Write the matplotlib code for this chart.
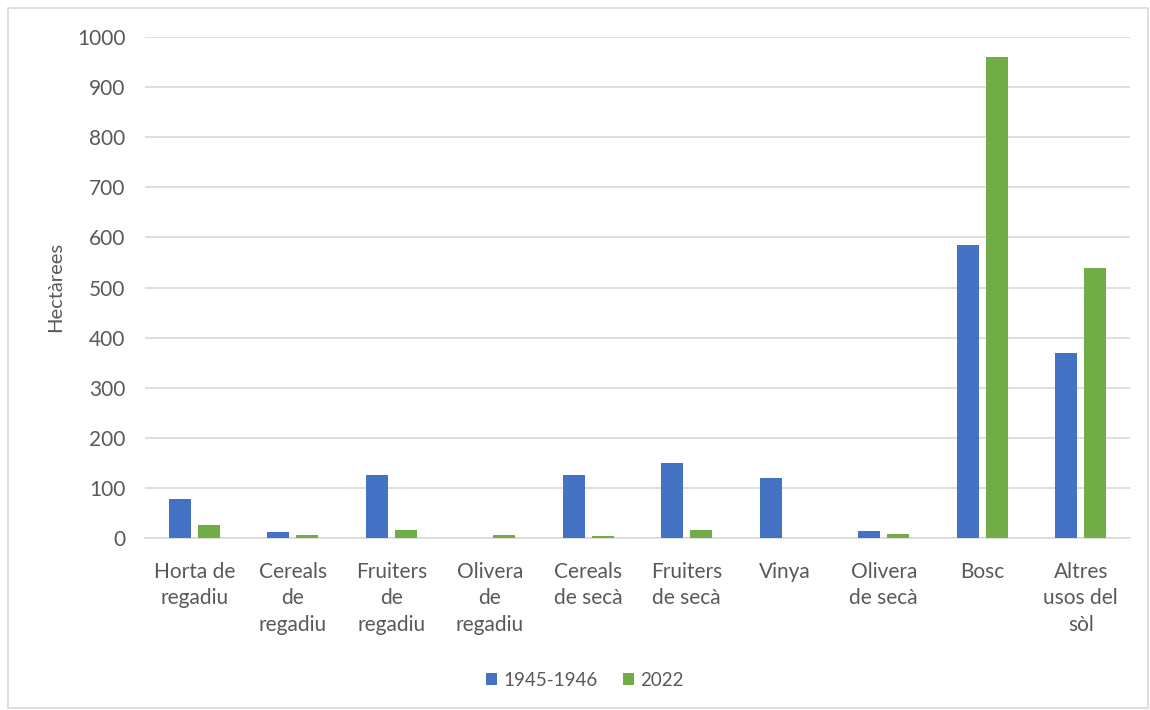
import matplotlib.pyplot as plt
import numpy as np
from matplotlib.patches import Rectangle

categories = [
    "Horta de\nregadiu",
    "Cereals\nde\nregadiu",
    "Fruiters\nde\nregadiu",
    "Olivera\nde\nregadiu",
    "Cereals\nde secà",
    "Fruiters\nde secà",
    "Vinya",
    "Olivera\nde secà",
    "Bosc",
    "Altres\nusos del\nsòl",
]
values_1945 = [77, 11, 126, 0, 126, 150, 120, 13, 585, 369]
values_2022 = [25, 5, 15, 5, 3, 15, 0.5, 7, 960, 539]
series_labels = ["1945-1946", "2022"]
yticks = [0, 100, 200, 300, 400, 500, 600, 700, 800, 900, 1000]

BLUE = "#4472C4"
GREEN = "#70AD47"
TEXT = "#595959"
GRID = "#D9D9D9"

plt.rcParams["font.family"] = ["Lato", "DejaVu Sans"]

fig = plt.figure(figsize=(11.5, 7.1), dpi=100)
ax = fig.add_axes([145 / 1150, 1 - 538 / 710, 985 / 1150, 501 / 710])

x = np.arange(len(categories))
width = 0.225
offset = 0.147
ax.bar(x - offset, values_1945, width, color=BLUE, label=series_labels[0], zorder=3)
ax.bar(x + offset, values_2022, width, color=GREEN, label=series_labels[1], zorder=3)

ax.set_xlim(-0.5, len(categories) - 0.5)
ax.set_ylim(0, 1000)
ax.set_yticks(yticks)
ax.set_xticks(x)
ax.set_xticklabels(categories, fontsize=15, color=TEXT, linespacing=1.42, va="top")
ax.tick_params(axis="y", labelsize=15, labelcolor=TEXT, length=0, pad=14)
ax.tick_params(axis="x", length=0, pad=17)
ax.yaxis.grid(True, color=GRID, linewidth=1.2, zorder=0)
for side in ("top", "right", "left"):
    ax.spines[side].set_visible(False)
ax.spines["bottom"].set_color(GRID)
ax.spines["bottom"].set_linewidth(1.2)

fig.text(56 / 1150, 1 - 287 / 710, "Hectàrees", rotation=90, fontsize=14.5,
         color=TEXT, ha="center", va="center")

fig.legend(
    loc="center",
    bbox_to_anchor=(585 / 1150, 1 - 680 / 710),
    ncol=2,
    frameon=False,
    fontsize=13.5,
    labelcolor=TEXT,
    handlelength=0.6,
    handleheight=0.6,
    handletextpad=0.35,
    columnspacing=1.3,
)

fig.patches.append(
    Rectangle((8 / 1150, 2 / 710), 1140 / 1150, 700 / 710,
              transform=fig.transFigure, fill=False, edgecolor=GRID, linewidth=1.2)
)

fig.savefig("out.png", dpi=100)
